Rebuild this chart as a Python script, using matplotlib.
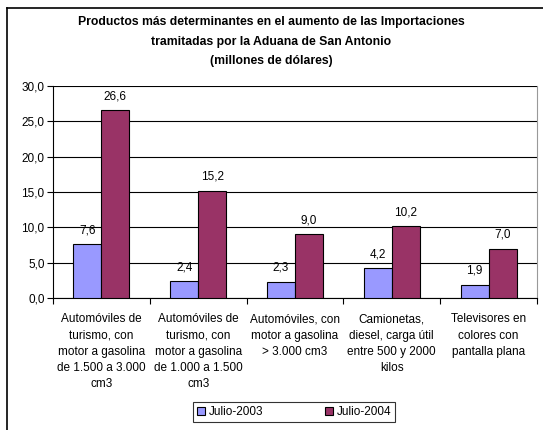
import numpy as np
import matplotlib.pyplot as plt

plt.rcParams['font.family'] = ['Liberation Sans', 'DejaVu Sans']

categorias = [
    "Automóviles de\nturismo, con\nmotor a gasolina\nde 1.500 a 3.000\ncm3",
    "Automóviles de\nturismo, con\nmotor a gasolina\nde 1.000 a 1.500\ncm3",
    "Automóviles, con\nmotor a gasolina\n> 3.000 cm3",
    "Camionetas,\ndiesel, carga útil\nentre 500 y 2000\nkilos",
    "Televisores en\ncolores con\npantalla plana",
]
julio_2003 = [7.6, 2.4, 2.3, 4.2, 1.9]
julio_2004 = [26.6, 15.2, 9.0, 10.2, 7.0]
series = ["Julio-2003", "Julio-2004"]
yticks = [0, 5, 10, 15, 20, 25, 30]

fig = plt.figure(figsize=(5.43, 4.30), dpi=100)
ax = fig.add_axes([53/543, 1-298/430, (537-53)/543, (298-86)/430])

# marco exterior (solo izquierda y arriba visibles)
fig.add_artist(plt.Line2D([7/543, 7/543], [0, 1-8/430], color='black', lw=1.2, transform=fig.transFigure))
fig.add_artist(plt.Line2D([7/543, 1], [1-8/430, 1-8/430], color='black', lw=1.2, transform=fig.transFigure))

x = np.arange(len(categorias))
w = 0.29
b1 = ax.bar(x - w/2, julio_2003, w, color='#9999FF', edgecolor='black', lw=0.8, label=series[0], zorder=3)
b2 = ax.bar(x + w/2, julio_2004, w, color='#993366', edgecolor='black', lw=0.8, label=series[1], zorder=3)

for bars, vals in [(b1, julio_2003), (b2, julio_2004)]:
    for r, v in zip(bars, vals):
        ax.text(r.get_x() + r.get_width()/2, v + 1.1, f"{v:.1f}".replace('.', ','),
                ha='center', va='bottom', fontsize=8.5)

ax.set_xlim(-0.5, len(categorias) - 0.5)
ax.set_ylim(0, 30)
ax.set_yticks(yticks)
ax.set_yticklabels([f"{t:.1f}".replace('.', ',') for t in yticks], fontsize=8.5)
ax.yaxis.grid(True, color='black', lw=0.8, zorder=0)
ax.tick_params(axis='y', length=4, width=0.8, pad=2)

ax.set_xticks(x)
ax.set_xticklabels(categorias, fontsize=8.5, linespacing=1.47)
ax.tick_params(axis='x', length=0, pad=11)
ax.set_xticks(np.arange(len(categorias) + 1) - 0.5, minor=True)
ax.tick_params(axis='x', which='minor', length=4, width=0.8)

ax.spines['top'].set_visible(False)
ax.spines['right'].set_color('#999999')
ax.spines['left'].set_linewidth(0.8)
ax.spines['bottom'].set_linewidth(0.8)

fig.text(271.5/543, 1-16.5/430,
         "Productos más determinantes en el aumento de las Importaciones\n"
         "tramitadas por la Aduana de San Antonio\n(millones de dólares)",
         ha='center', va='top', fontsize=8.8, fontweight='bold', linespacing=1.8)

leg = fig.legend(handles=[b1, b2], labels=series, loc='center', bbox_to_anchor=(294/543, 1-412/430),
                 ncol=2, fontsize=8.5, frameon=True, fancybox=False, edgecolor='black',
                 handlelength=0.7, handleheight=0.7, columnspacing=5.2, handletextpad=0.3,
                 borderpad=0.35, borderaxespad=0)
leg.get_frame().set_linewidth(0.8)

fig.savefig('out.png', dpi=100)
